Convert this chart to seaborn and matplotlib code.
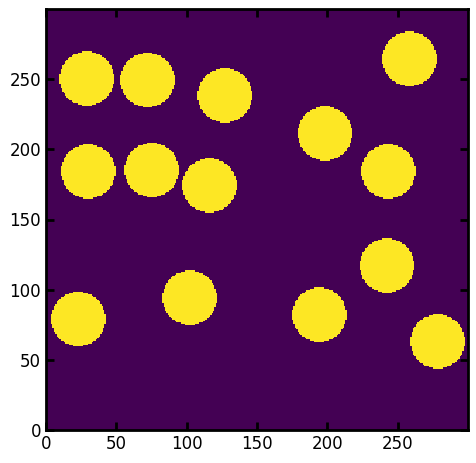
import numpy as np
import matplotlib
matplotlib.use("Agg")
import matplotlib.pyplot as plt
import seaborn as sns

# circle centres (x, y) and radii, in pixel units of a 300x300 mask
cx = [29, 72, 127, 258, 198, 30, 75, 116, 243, 242, 102, 23, 194, 278]
cy = [250, 249, 238, 264, 211, 184, 185, 174, 184, 117, 94, 79, 82, 63]
radius = [19.3] * 14
size = 300

yy, xx = np.mgrid[0:size, 0:size]
mask = np.zeros((size, size))
for x0, y0, r in zip(cx, cy, radius):
    mask[(xx - x0) ** 2 + (yy - y0) ** 2 <= r ** 2] = 1

sns.set_style("white")
plt.rcParams["font.family"] = ["DejaVu Sans"]

fig = plt.figure(figsize=(4.77, 4.63), dpi=100)
ax = fig.add_axes([46 / 477, 33 / 463, 422 / 477, 421 / 463])
ax.imshow(mask, cmap="viridis", origin="lower", interpolation="nearest", aspect="auto")
ax.set_xlim(0, size)
ax.set_ylim(0, size)
ax.set_xticks([0, 50, 100, 150, 200, 250])
ax.set_yticks([0, 50, 100, 150, 200, 250])
ax.tick_params(direction="in", top=True, right=True, length=6, width=2,
               labelsize=12, color="black", labelcolor="black",
               bottom=True, left=True)
for s in ax.spines.values():
    s.set_linewidth(2)
    s.set_color("black")

fig.savefig("out.png", dpi=100)
